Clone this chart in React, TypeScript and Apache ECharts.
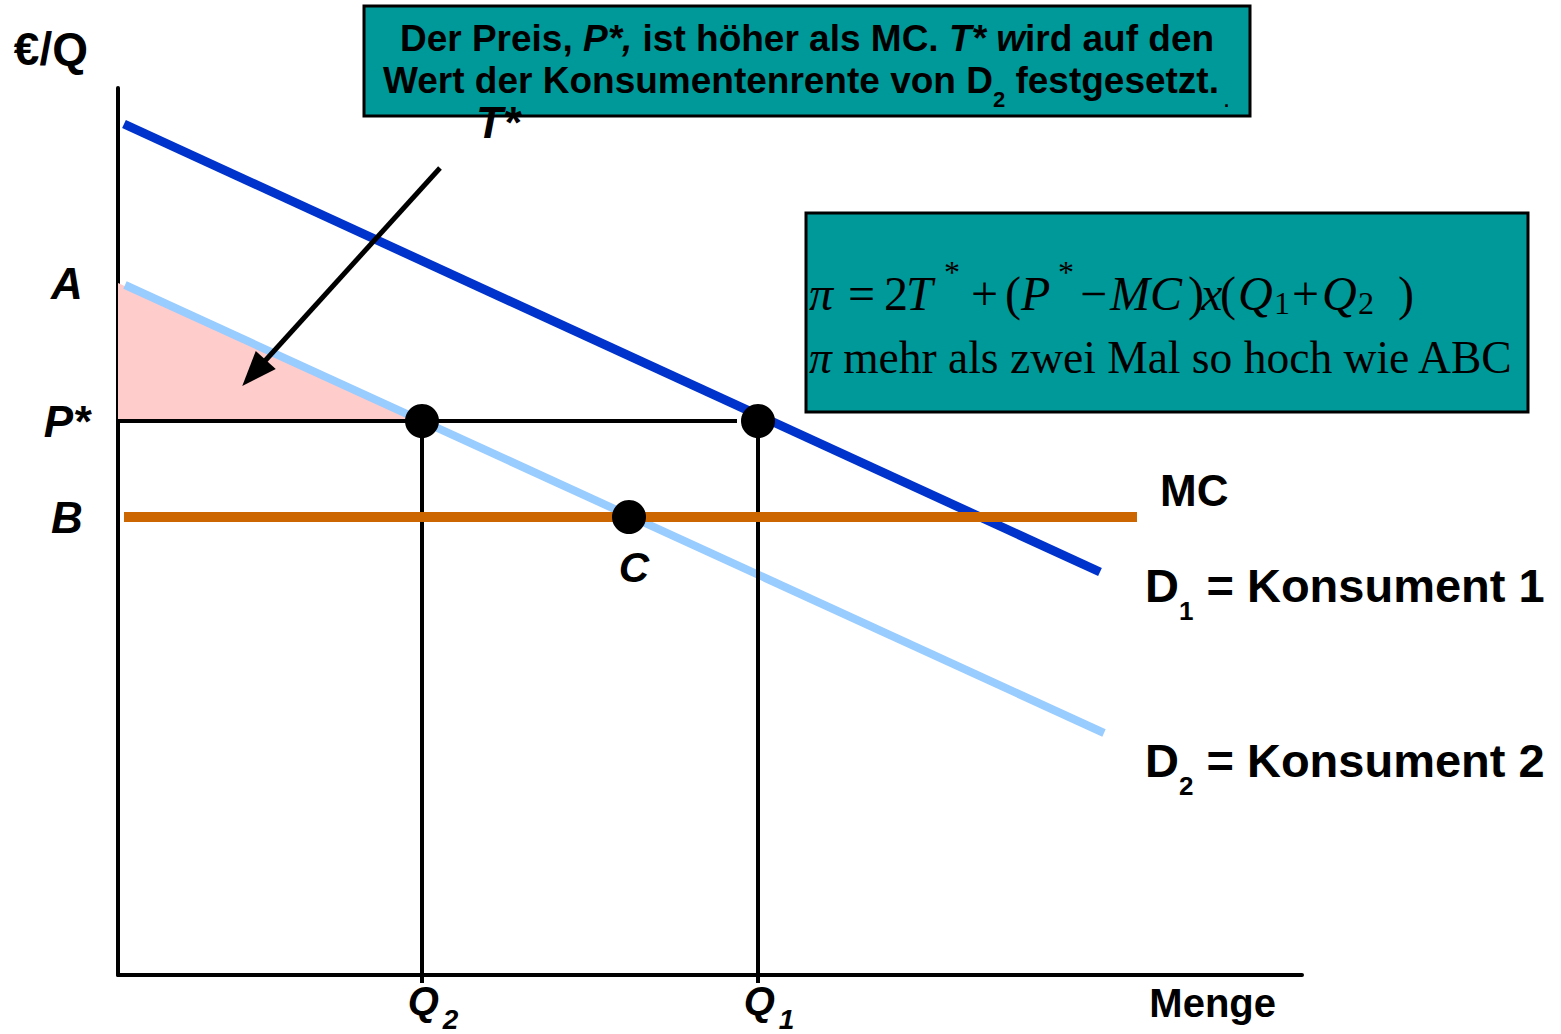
import React, { useEffect, useRef } from "react";
import * as echarts from "echarts";

// Vertical axis marks: A, P*, B
const priceLevels = [692, 554, 458];
const priceLabels = ["A", "P*", "B"];

// Horizontal axis marks: Q2, Q1 (subscript digits)
const quantityLevels = [304, 640];
const quantitySubscripts = ["2", "1"];

// Curves as endpoint pairs [quantity, price]
const demand1 = [[6, 851], [982, 403]];
const demand2 = [[7, 690], [986, 242]];
const marginalCost = [[6, 458], [1019, 458]];

// Consumer surplus of D2 at P* (the entry fee T*)
const surplusTriangle = [[0, 692], [0, 554], [304, 554]];

// Points (Q2, P*), (Q1, P*) and C
const priceQuantityPoints = [[304, 554], [640, 554]];
const pointC = [[511, 458]];

// Guide lines
const priceLine = [[0, 554], [619, 554]];
const dropQ2 = [[304, 554], [304, -8]];
const dropQ1 = [[640, 554], [640, -8]];

// Pointer from the T* label into the triangle
const arrowFrom = [322, 807];
const arrowTo = [136, 602];

// Profit formula, one glyph group per entry: [text, left x, style]
const formulaTokens: [string, number, string][] = [
  ["π", 809, "i"],
  ["=", 848, "r"],
  ["2", 884, "r"],
  ["T", 906, "i"],
  ["*", 944, "p"],
  ["+", 971, "r"],
  ["(", 1005, "r"],
  ["P", 1021, "i"],
  ["*", 1058, "p"],
  ["−", 1080, "r"],
  ["MC", 1110, "i"],
  [")", 1188, "r"],
  ["x", 1201, "i"],
  ["(", 1220, "r"],
  ["Q", 1238, "i"],
  ["1", 1274, "s"],
  ["+", 1292, "r"],
  ["Q", 1322, "i"],
  ["2", 1358, "s"],
  [")", 1398, "r"],
];

const X_MAX = 1184;
const Y_MAX = 887;

const SANS = "Arial, 'Liberation Sans', Helvetica, sans-serif";
const SERIF = "'Times New Roman', 'Liberation Serif', Times, serif";
const TEAL = "#009999";

const boldSans = (size: number, italic = false) => ({
  fontSize: size,
  fontWeight: "bold" as const,
  fontStyle: italic ? ("italic" as const) : ("normal" as const),
  fontFamily: SANS,
  fill: "#000",
  color: "#000",
});

const serif = (size: number, italic = false) => ({
  fontSize: size,
  fontStyle: italic ? ("italic" as const) : ("normal" as const),
  fontFamily: SERIF,
  fill: "#000",
});

// Formula glyph styles: regular, italic, superscript, subscript
const formulaStyles: Record<string, { font: any; y: number }> = {
  r: { font: serif(48), y: 293 },
  i: { font: serif(48, true), y: 293 },
  p: { font: serif(32), y: 272 },
  s: { font: serif(32), y: 303 },
};

export default function App() {
  const ref = useRef<HTMLDivElement>(null);

  useEffect(() => {
    if (!ref.current) return;
    const chart = echarts.init(ref.current, undefined, { renderer: "svg" });

    const blackLine = (data: number[][], width: number, z: number) => ({
      type: "line",
      data,
      symbol: "none",
      clip: false,
      silent: true,
      z,
      lineStyle: { color: "#000", width, cap: "butt" },
    });

    const formulaTexts = formulaTokens.map(([text, x, kind]) => ({
      type: "text",
      z: 51,
      x,
      y: formulaStyles[kind].y,
      style: { text, align: "left", verticalAlign: "middle", ...formulaStyles[kind].font },
    }));

    const option: any = {
      animation: false,
      backgroundColor: "#fff",
      grid: { left: 118, top: 88, width: 1184, height: 887, containLabel: false },
      xAxis: {
        type: "value",
        min: 0,
        max: X_MAX,
        splitLine: { show: false },
        axisTick: { show: false },
        axisLine: { show: true, onZero: false, lineStyle: { color: "#000", width: 4 } },
        axisLabel: {
          show: true,
          customValues: quantityLevels,
          margin: 6,
          align: "center",
          padding: [0, 0, 0, 22],
          formatter: (v: number) => {
            const i = quantityLevels.indexOf(v);
            return `{q|Q}{s|${quantitySubscripts[i] ?? ""}}`;
          },
          rich: {
            q: { ...boldSans(40, true), lineHeight: 42, verticalAlign: "top" },
            s: { ...boldSans(28, true), lineHeight: 28, padding: [24, 0, 0, 4], verticalAlign: "top" },
          },
        },
        name: "Menge",
        nameLocation: "end",
        nameGap: -26,
        nameTextStyle: {
          ...boldSans(40),
          align: "right",
          verticalAlign: "top",
          padding: [8, 0, 0, 0],
        },
      },
      yAxis: {
        type: "value",
        min: 0,
        max: Y_MAX,
        splitLine: { show: false },
        axisTick: { show: false },
        axisLine: { show: true, onZero: false, lineStyle: { color: "#000", width: 4 } },
        axisLabel: {
          show: true,
          customValues: priceLevels,
          margin: 51,
          align: "center",
          formatter: (v: number) => priceLabels[priceLevels.indexOf(v)] ?? "",
          ...boldSans(44, true),
        },
        name: "€/Q",
        nameLocation: "end",
        nameGap: 16,
        nameTextStyle: {
          ...boldSans(46),
          align: "right",
          verticalAlign: "bottom",
          padding: [0, 30, 0, 0],
        },
      },
      series: [
        {
          type: "custom",
          name: "T*",
          silent: true,
          clip: false,
          z: 1,
          data: surplusTriangle,
          renderItem: (params: any, api: any) => {
            if (params.dataIndex !== 0) return null;
            const points = surplusTriangle.map((p) => api.coord(p));
            return { type: "polygon", shape: { points }, style: { fill: "#FFCCCC" } };
          },
        },
        {
          type: "line",
          name: "D2",
          data: demand2,
          symbol: "none",
          silent: true,
          z: 2,
          lineStyle: { color: "#99CCFF", width: 8, cap: "butt" },
          markLine: {
            silent: true,
            symbol: ["none", "triangle"],
            symbolSize: [27, 35],
            label: { show: false },
            lineStyle: { color: "#000", width: 5, type: "solid" },
            itemStyle: { color: "#000" },
            data: [[{ coord: arrowFrom }, { coord: arrowTo }]],
          },
        },
        blackLine(priceLine, 4, 3),
        blackLine(dropQ2, 4, 3),
        blackLine(dropQ1, 4, 3),
        {
          type: "line",
          name: "D1",
          data: demand1,
          symbol: "none",
          silent: true,
          z: 4,
          lineStyle: { color: "#0033CC", width: 9, cap: "butt" },
        },
        {
          type: "line",
          name: "MC",
          data: marginalCost,
          symbol: "none",
          silent: true,
          z: 5,
          lineStyle: { color: "#CC6600", width: 10, cap: "butt" },
        },
        {
          type: "scatter",
          data: [...priceQuantityPoints, ...pointC],
          symbol: "circle",
          symbolSize: 34,
          silent: true,
          z: 6,
          itemStyle: { color: "#000", opacity: 1 },
        },
      ],
      graphic: [
        // Heading box
        {
          type: "rect",
          z: 50,
          shape: { x: 364, y: 6, width: 886, height: 110 },
          style: { fill: TEAL, stroke: "#000", lineWidth: 3 },
        },
        {
          type: "text",
          z: 51,
          x: 807,
          y: 38,
          style: {
            text: "{b|Der Preis, }{i|P*,}{b| ist höher als MC. }{i|T* w}{b|ird auf den}",
            align: "center",
            verticalAlign: "middle",
            rich: { b: boldSans(37), i: boldSans(37, true) },
          },
        },
        {
          type: "text",
          z: 51,
          x: 806,
          y: 82,
          style: {
            text: "{b|Wert der Konsumentenrente von D}{s|2}{b| festgesetzt.}{d|.}",
            align: "center",
            verticalAlign: "middle",
            rich: {
              b: { ...boldSans(37), lineHeight: 40, verticalAlign: "top" },
              s: { ...boldSans(22), lineHeight: 22, padding: [26, 0, 0, 0], verticalAlign: "top" },
              d: { ...boldSans(18), lineHeight: 18, padding: [30, 0, 0, 5], verticalAlign: "top" },
            },
          },
        },
        {
          type: "text",
          z: 52,
          x: 476,
          y: 122,
          style: { text: "T*", align: "left", verticalAlign: "middle", ...boldSans(44, true) },
        },
        // Profit box
        {
          type: "rect",
          z: 50,
          shape: { x: 806, y: 213, width: 722, height: 199 },
          style: { fill: TEAL, stroke: "#000", lineWidth: 3 },
        },
        ...formulaTexts,
        {
          type: "text",
          z: 51,
          x: 809,
          y: 357,
          style: {
            text: "{i|π}{r| mehr als zwei Mal so hoch wie ABC}",
            align: "left",
            verticalAlign: "middle",
            rich: { r: serif(45.5), i: serif(45.5, true) },
          },
        },
        // Curve names
        {
          type: "text",
          x: 1160,
          y: 490,
          style: { text: "MC", align: "left", verticalAlign: "middle", ...boldSans(44) },
        },
        {
          type: "text",
          x: 1145,
          y: 587,
          style: {
            text: "{b|D}{s|1}{b| = Konsument 1}",
            align: "left",
            verticalAlign: "middle",
            rich: {
              b: { ...boldSans(47), lineHeight: 50, verticalAlign: "top" },
              s: { ...boldSans(26), lineHeight: 26, padding: [36, 0, 0, 0], verticalAlign: "top" },
            },
          },
        },
        {
          type: "text",
          x: 1145,
          y: 762,
          style: {
            text: "{b|D}{s|2}{b| = Konsument 2}",
            align: "left",
            verticalAlign: "middle",
            rich: {
              b: { ...boldSans(47), lineHeight: 50, verticalAlign: "top" },
              s: { ...boldSans(26), lineHeight: 26, padding: [36, 0, 0, 0], verticalAlign: "top" },
            },
          },
        },
        {
          type: "text",
          x: 634,
          y: 567,
          style: { text: "C", align: "center", verticalAlign: "middle", ...boldSans(42, true) },
        },
      ],
    };

    chart.setOption(option);
    return () => chart.dispose();
  }, []);

  return (
    <div
      ref={ref}
      style={{ position: "absolute", left: 0, top: 0, width: 1561, height: 1034, background: "#fff" }}
    />
  );
}
